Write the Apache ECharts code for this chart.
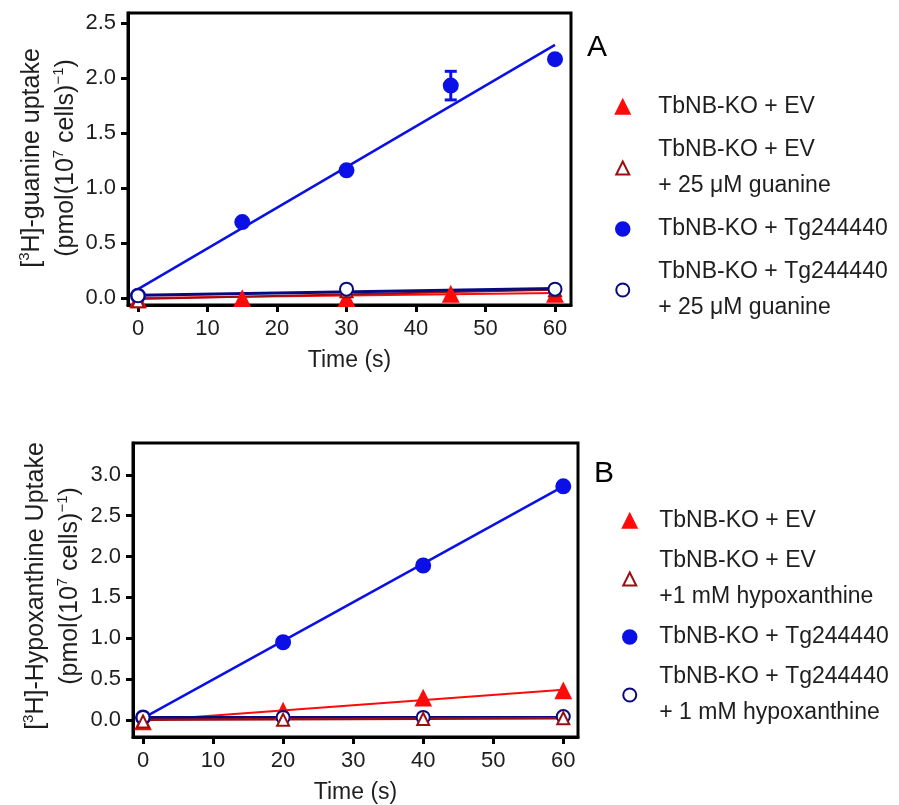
<!DOCTYPE html>
<html>
<head>
<meta charset="utf-8">
<script src="https://cdn.jsdelivr.net/npm/echarts@6/dist/echarts.min.js"></script>
<style>
html,body{margin:0;padding:0;background:#fff;}
#chart{width:899px;height:805px;}
</style>
</head>
<body>
<div id="chart"></div>
<script>
// ---------- Panel A data ----------
const timeA = [0, 15, 30, 45, 60];
const timeInhA = [0, 30, 60];
const evA = [-0.02, -0.01, -0.01, 0.03, 0.03];
const evGuaA = [-0.03, 0.06, 0.07];
const tgA = [0.02, 0.69, 1.16, 1.93, 2.17];
const tgGuaA = [0.02, 0.08, 0.08];
const errXA = [45];
const errLowA = [1.80];
const errHighA = [2.06];
const fitX = [0, 60];
const fitEvA = [0.0, 0.045];
const fitEvGuaA = [-0.01, 0.075];
const fitTgA = [0.08, 2.30];
const fitTgGuaA = [0.025, 0.085];
const xTicksA = [0, 10, 20, 30, 40, 50, 60];
const yTicksA = [0, 0.5, 1.0, 1.5, 2.0, 2.5];

// ---------- Panel B data ----------
const timeB = [0, 20, 40, 60];
const evB = [-0.03, 0.10, 0.26, 0.35];
const evHxB = [-0.02, 0.00, 0.01, 0.02];
const tgB = [0.03, 0.95, 1.89, 2.86];
const tgHxB = [0.03, 0.03, 0.03, 0.04];
const fitEvB = [-0.01, 0.37];
const fitEvHxB = [0.0, 0.02];
const fitTgB = [0.02, 2.86];
const fitTgHxB = [0.03, 0.03];
const xTicksB = [0, 10, 20, 30, 40, 50, 60];
const yTicksB = [0, 0.5, 1.0, 1.5, 2.0, 2.5, 3.0];

// ---------- Legend names ----------
const namesA = ['TbNB-KO + EV', 'TbNB-KO + EV\n+ 25 \u03bcM guanine', 'TbNB-KO + Tg244440', 'TbNB-KO + Tg244440\n+ 25 \u03bcM guanine'];
const namesB = ['TbNB-KO + EV', 'TbNB-KO + EV\n+1 mM hypoxanthine', 'TbNB-KO + Tg244440', 'TbNB-KO + Tg244440\n+ 1 mM hypoxanthine'];

const FONT = "'Liberation Sans', Arial, Helvetica, sans-serif";
const TXT = '#1e1e1e';
const RED = '#ff0a0a';
const DRED = '#9a1010';
const BLUE = '#0a10e6';
const NAVY = '#0a0a80';

function pts(xs, ys) { return xs.map((x, i) => [x, ys[i]]); }

function xAxisCfg(grid, ticks, min, max) {
  return {
    gridIndex: grid, type: 'value', min: min, max: max,
    axisLine: { show: true, onZero: false, lineStyle: { color: '#000', width: 3 } },
    axisTick: { show: true, length: 7, lineStyle: { color: '#000', width: 3 }, customValues: ticks },
    axisLabel: { customValues: ticks, fontSize: 22, color: TXT, fontFamily: FONT, margin: 13 },
    splitLine: { show: false },
    name: 'Time (s)', nameLocation: 'middle', nameGap: 44,
    nameTextStyle: { fontSize: 23, color: TXT, fontFamily: FONT }
  };
}
function yAxisCfg(grid, ticks, min, max) {
  return {
    gridIndex: grid, type: 'value', min: min, max: max,
    axisLine: { show: true, onZero: false, lineStyle: { color: '#000', width: 3 } },
    axisTick: { show: true, length: 7, lineStyle: { color: '#000', width: 3 }, customValues: ticks },
    axisLabel: { customValues: ticks, fontSize: 22, color: TXT, fontFamily: FONT, margin: 12,
      formatter: v => Number(v).toFixed(1) },
    splitLine: { show: false }
  };
}
function fitLine(idx, ys, color, width, z) {
  return { type: 'line', xAxisIndex: idx, yAxisIndex: idx, data: pts(fitX, ys), symbol: 'none',
    lineStyle: { color: color, width: width }, silent: true, z: z };
}
function scat(idx, name, xs, ys, symbol, color, size, z) {
  return { type: 'scatter', name: name, xAxisIndex: idx, yAxisIndex: idx, data: pts(xs, ys),
    symbol: symbol, symbolSize: size, itemStyle: { color: color, borderColor: color, borderWidth: 3, opacity: 1 }, z: z };
}

const rich = {
  n: { fontSize: 25, lineHeight: 34, fontFamily: FONT, fill: TXT, color: TXT },
  s: { fontSize: 15, lineHeight: 34, fontFamily: FONT, fill: TXT, color: TXT, verticalAlign: 'top', padding: [2, 0, 0, 0] }
};

const legendText = { fontSize: 23, lineHeight: 36, color: TXT, fontFamily: FONT };

const chart = echarts.init(document.getElementById('chart'), null, { renderer: 'canvas' });
chart.setOption({
  animation: false,
  backgroundColor: '#fff',
  grid: [
    { left: 128, top: 13, width: 443, height: 292, show: true, borderColor: '#000', borderWidth: 3 },
    { left: 133, top: 443, width: 445, height: 294, show: true, borderColor: '#000', borderWidth: 3 }
  ],
  xAxis: [xAxisCfg(0, xTicksA, -1.44, 62.3), xAxisCfg(1, xTicksB, -1.43, 62.1)],
  yAxis: [yAxisCfg(0, yTicksA, -0.064, 2.59), yAxisCfg(1, yTicksB, -0.21, 3.39)],
  legend: [
    { orient: 'vertical', left: 610, top: 84, itemWidth: 13, itemHeight: 13, itemGap: 7,
      symbolKeepAspect: true, data: namesA, selectedMode: false, itemStyle: { borderWidth: 2.5 },
      textStyle: Object.assign({ padding: [0, 0, 0, 24] }, legendText) },
    { orient: 'vertical', left: 617, top: 498, itemWidth: 13, itemHeight: 13, itemGap: 4,
      symbolKeepAspect: true, data: namesB, selectedMode: false, itemStyle: { borderWidth: 2.5 },
      textStyle: Object.assign({ padding: [0, 0, 0, 18] }, legendText) }
  ],
  graphic: [
    { type: 'text', x: 597, y: 48, style: { text: 'A', fontSize: 30, fontFamily: FONT, fill: '#000', align: 'center', verticalAlign: 'middle' } },
    { type: 'text', x: 604, y: 474, style: { text: 'B', fontSize: 30, fontFamily: FONT, fill: '#000', align: 'center', verticalAlign: 'middle' } },
    { type: 'text', x: 49, y: 158, rotation: Math.PI / 2,
      style: { text: '{n|[}{s|3}{n|H]-guanine uptake}\n{n|(pmol(10}{s|7}{n| cells)}{s|\u22121}{n|)}', rich: rich, align: 'center', verticalAlign: 'middle', fill: TXT } },
    { type: 'text', x: 53, y: 586, rotation: Math.PI / 2,
      style: { text: '{n|[}{s|3}{n|H]-Hypoxanthine Uptake}\n{n|(pmol(10}{s|7}{n| cells)}{s|\u22121}{n|)}', rich: rich, align: 'center', verticalAlign: 'middle', fill: TXT } }
  ],
  series: [
    // Panel A fits
    fitLine(0, fitEvA, RED, 2, 2),
    fitLine(0, fitEvGuaA, DRED, 2, 2),
    fitLine(0, fitTgGuaA, NAVY, 3, 3),
    fitLine(0, fitTgA, BLUE, 2.5, 3),
    // Panel A points
    scat(0, namesA[0], timeA, evA, 'triangle', RED, 13, 5),
    scat(0, namesA[1], timeInhA, evGuaA, 'emptyTriangle', DRED, 12, 6),
    scat(0, namesA[2], timeA, tgA, 'circle', BLUE, 13, 5),
    scat(0, namesA[3], timeInhA, tgGuaA, 'emptyCircle', NAVY, 13, 7),
    // Panel A error bar
    {
      type: 'custom', xAxisIndex: 0, yAxisIndex: 0, z: 6, silent: true,
      data: errXA.map((x, i) => [x, errLowA[i], errHighA[i]]),
      renderItem: function (params, api) {
        const x = api.value(0);
        const lo = api.coord([x, api.value(1)]);
        const hi = api.coord([x, api.value(2)]);
        const w = 6;
        const st = { stroke: BLUE, lineWidth: 3 };
        return { type: 'group', children: [
          { type: 'line', shape: { x1: lo[0], y1: lo[1], x2: hi[0], y2: hi[1] }, style: st },
          { type: 'line', shape: { x1: hi[0] - w, y1: hi[1], x2: hi[0] + w, y2: hi[1] }, style: st },
          { type: 'line', shape: { x1: lo[0] - w, y1: lo[1], x2: lo[0] + w, y2: lo[1] }, style: st }
        ] };
      }
    },
    // Panel B fits
    fitLine(1, fitEvB, RED, 2, 2),
    fitLine(1, fitTgHxB, NAVY, 3, 2),
    fitLine(1, fitEvHxB, DRED, 2.5, 3),
    fitLine(1, fitTgB, BLUE, 2.5, 3),
    // Panel B points
    scat(1, namesB[0], timeB, evB, 'triangle', RED, 13, 5),
    scat(1, namesB[1], timeB, evHxB, 'emptyTriangle', DRED, 12, 7),
    scat(1, namesB[2], timeB, tgB, 'circle', BLUE, 13, 5),
    scat(1, namesB[3], timeB, tgHxB, 'emptyCircle', NAVY, 13, 6)
  ]
});
</script>
</body>
</html>
